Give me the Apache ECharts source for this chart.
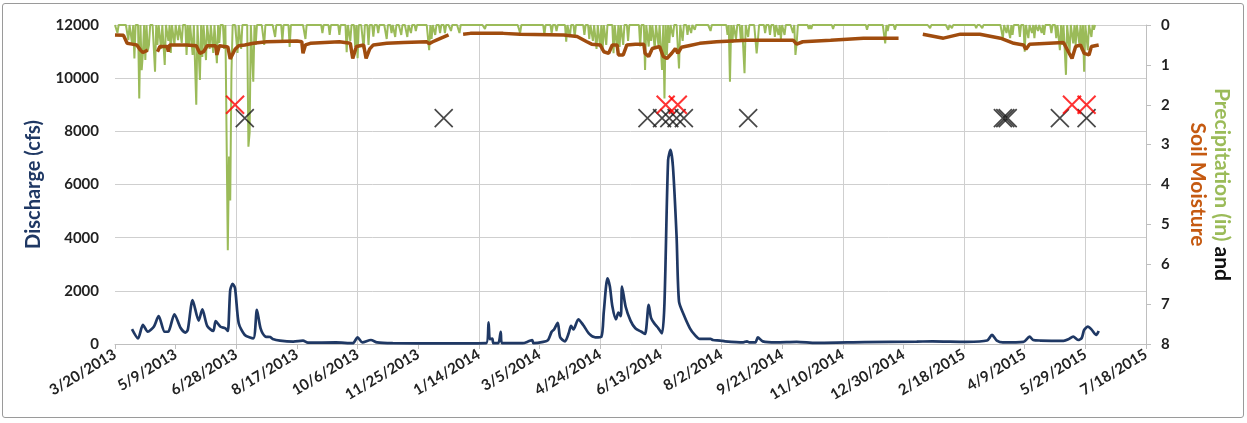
<!DOCTYPE html>
<html>
<head>
<meta charset="utf-8">
<script src="https://cdn.jsdelivr.net/npm/echarts@6/dist/echarts.min.js"></script>
<style>
  html, body { margin: 0; padding: 0; background: #fff; }
  #chart { width: 1247px; height: 423px; }
  #frame { position: absolute; left: 2px; top: 3px; width: 1240px; height: 413px;
           border: 1px solid #9a9a9a; border-radius: 3px; pointer-events: none; }
</style>
</head>
<body>
<div id="chart"></div>
<div id="frame"></div>
<script>
// ---- Daily discharge (cfs), left axis ----
const flowDates = [
  '2013-04-03','2013-04-08','2013-04-12','2013-04-16','2013-04-21','2013-04-25','2013-04-30','2013-05-03',
  '2013-05-08','2013-05-13','2013-05-17','2013-05-19','2013-05-23','2013-05-28','2013-05-31','2013-06-04',
  '2013-06-09','2013-06-11','2013-06-15','2013-06-19','2013-06-21','2013-06-23','2013-06-25','2013-06-27',
  '2013-06-30','2013-07-05','2013-07-12','2013-07-15','2013-07-18','2013-07-22','2013-07-26','2013-07-28',
  '2013-08-03','2013-08-14','2013-08-22','2013-08-26','2013-09-18','2013-10-02','2013-10-06','2013-10-10',
  '2013-10-17','2013-10-22','2013-11-04','2013-12-15','2014-01-20','2014-01-22','2014-01-23','2014-01-25',
  '2014-01-26','2014-01-30','2014-02-01','2014-02-02','2014-02-19','2014-02-24','2014-02-27','2014-02-28',
  '2014-03-08','2014-03-12','2014-03-15','2014-03-17','2014-03-20','2014-03-22','2014-03-26','2014-03-29',
  '2014-03-31','2014-04-02','2014-04-06','2014-04-10','2014-04-15','2014-04-20','2014-04-25','2014-04-27',
  '2014-04-30','2014-05-02','2014-05-04','2014-05-07','2014-05-09','2014-05-11','2014-05-12','2014-05-15',
  '2014-05-19','2014-05-23','2014-05-28','2014-05-31','2014-06-03','2014-06-05','2014-06-08','2014-06-11',
  '2014-06-14','2014-06-16','2014-06-19','2014-06-21','2014-06-23','2014-06-26','2014-06-28','2014-07-02',
  '2014-07-07','2014-07-11','2014-07-15','2014-07-24','2014-07-26','2014-08-01','2014-08-05','2014-08-20',
  '2014-08-23','2014-08-25','2014-08-30','2014-09-01','2014-09-05','2014-09-16','2014-10-03','2014-10-19',
  '2014-11-28','2015-01-10','2015-01-23','2015-02-20','2015-03-09','2015-03-13','2015-03-17','2015-03-22',
  '2015-04-08','2015-04-13','2015-04-16','2015-04-22','2015-05-11','2015-05-15','2015-05-19','2015-05-23',
  '2015-05-26','2015-05-28','2015-05-31','2015-06-03','2015-06-07','2015-06-09'
];
const flowCfs = [
  560,210,720,460,650,1050,460,470,
  1120,610,430,530,1650,880,1300,680,
  490,860,650,590,490,2030,2260,2090,
  780,340,210,1280,590,280,260,190,
  125,90,125,50,60,30,250,60,
  150,60,30,20,30,815,180,200,
  30,30,460,30,30,100,150,30,
  80,150,460,550,800,250,100,400,
  680,550,930,715,380,250,275,1220,
  2470,2160,1430,930,1180,1050,2160,1400,
  880,590,460,380,1470,970,750,590,
  400,1530,6920,7300,6670,4040,1590,1090,
  590,340,190,190,150,130,100,60,
  100,60,60,250,100,60,80,40,
  70,90,100,80,130,340,130,60,
  80,280,150,130,120,175,280,150,
  225,530,650,550,340,490
];

// ---- Daily precipitation (in), right axis (inverted); days not listed had none ----
const rainFirst = '2013-03-20';
const rainLast = '2015-06-06';
const rainDates = [
  '2013-03-22','2013-03-31','2013-04-03','2013-04-05','2013-04-09','2013-04-11','2013-04-12','2013-04-14',
  '2013-04-16','2013-04-17','2013-04-22','2013-04-24','2013-04-27','2013-04-30','2013-05-03','2013-05-05',
  '2013-05-08','2013-05-11','2013-05-14','2013-05-18','2013-05-20','2013-05-23','2013-05-26','2013-05-29',
  '2013-05-31','2013-06-03','2013-06-06','2013-06-09','2013-06-12','2013-06-14','2013-06-18','2013-06-21',
  '2013-06-22','2013-06-23','2013-06-24','2013-06-29','2013-07-02','2013-07-08','2013-07-09','2013-07-12',
  '2013-07-14','2013-07-21','2013-07-30','2013-08-05','2013-08-11','2013-08-24','2013-09-07','2013-09-13',
  '2013-09-21','2013-09-27','2013-09-30','2013-10-04','2013-10-06','2013-10-11','2013-10-15','2013-10-19',
  '2013-10-23','2013-10-30','2013-11-03','2013-11-06','2013-11-11','2013-11-16','2013-11-19','2013-11-23',
  '2013-12-04','2013-12-06','2013-12-09','2013-12-13','2013-12-17','2013-12-22','2013-12-29','2014-01-19',
  '2014-02-17','2014-03-09','2014-03-15','2014-03-19','2014-03-27','2014-03-30','2014-04-03','2014-04-11',
  '2014-04-15','2014-04-18','2014-04-21','2014-04-24','2014-04-26','2014-04-29','2014-05-05','2014-05-08',
  '2014-05-10','2014-05-13','2014-05-17','2014-05-27','2014-05-31','2014-06-03','2014-06-05','2014-06-08',
  '2014-06-11','2014-06-14','2014-06-16','2014-06-18','2014-06-20','2014-06-23','2014-06-28','2014-07-01',
  '2014-07-05','2014-07-08','2014-07-11','2014-07-24','2014-08-07','2014-08-09','2014-08-11','2014-08-14',
  '2014-08-18','2014-08-21','2014-08-24','2014-08-31','2014-09-01','2014-09-07','2014-09-11','2014-09-15',
  '2014-09-18','2014-09-20','2014-09-23','2014-09-30','2014-10-02','2014-10-03','2014-10-13','2014-10-15',
  '2014-11-02','2014-11-30','2014-12-15','2014-12-17','2014-12-23','2015-01-14','2015-01-21','2015-02-05',
  '2015-02-08','2015-02-28','2015-03-05','2015-03-22','2015-03-25','2015-03-28','2015-03-30','2015-04-05',
  '2015-04-09','2015-04-12','2015-04-15','2015-04-17','2015-04-20','2015-04-23','2015-04-25','2015-05-01',
  '2015-05-05','2015-05-08','2015-05-10','2015-05-13','2015-05-16','2015-05-19','2015-05-21','2015-05-24',
  '2015-05-26','2015-05-28','2015-05-31','2015-06-03','2015-06-05'
];
const rainInches = [
  0.20,0.38,0.45,0.84,1.84,1.13,0.71,0.88,
  0.65,0.50,1.17,0.50,0.60,1.00,0.40,0.70,
  0.50,0.38,0.45,0.75,0.55,0.75,2.00,1.38,
  0.80,0.88,0.60,0.70,0.96,0.45,0.60,5.65,
  3.30,4.40,1.20,0.70,0.60,3.05,2.70,1.42,
  0.50,0.50,0.30,0.40,0.55,0.35,0.20,0.25,
  0.25,0.68,0.40,0.55,0.83,0.60,0.50,0.29,
  0.20,0.35,0.20,0.30,0.25,0.30,0.20,0.15,
  0.63,0.35,0.25,0.20,0.20,0.15,0.20,0.10,
  0.20,0.25,0.20,0.15,0.42,0.30,0.30,0.25,
  0.35,0.40,0.60,0.55,0.65,0.50,0.71,0.63,
  0.55,0.50,0.40,0.54,1.13,0.54,0.40,0.60,
  0.50,1.13,1.84,0.75,0.45,0.30,1.09,0.40,
  0.25,0.20,0.12,0.15,0.25,1.42,0.45,0.35,
  0.40,1.21,0.30,0.71,0.40,0.20,0.25,0.30,
  0.25,0.35,0.25,0.20,0.75,0.45,0.10,0.10,
  0.10,0.12,0.46,0.15,0.12,0.05,0.08,0.12,
  0.08,0.08,0.08,0.33,0.20,0.33,0.25,0.30,
  0.67,0.33,0.20,0.33,0.15,0.20,0.25,0.20,
  0.33,0.63,0.50,1.25,0.67,0.46,0.50,0.46,
  0.63,1.17,0.63,0.30,0.12
];

// ---- Soil moisture, right axis; null marks a break in the record ----
const soilDates = [
  '2013-03-20','2013-03-27','2013-03-30','2013-04-03','2013-04-07','2013-04-10','2013-04-12','2013-04-16',
  '2013-04-20','2013-04-24','2013-04-26','2013-05-02','2013-05-03','2013-05-04','2013-05-18','2013-05-26',
  '2013-05-29','2013-06-01','2013-06-04','2013-06-11','2013-06-12','2013-06-14','2013-06-21','2013-06-23',
  '2013-06-27','2013-06-30','2013-07-05','2013-07-12','2013-07-23','2013-08-17','2013-08-21','2013-08-22',
  '2013-08-24','2013-08-28','2013-09-21','2013-09-30','2013-10-02','2013-10-05','2013-10-11','2013-10-13',
  '2013-10-16','2013-10-19','2013-10-30','2013-11-13','2013-12-02','2013-12-04','2013-12-07','2013-12-10',
  '2013-12-20','2013-12-26','2014-01-01','2014-01-07','2014-02-03','2014-02-17','2014-03-25','2014-04-05',
  '2014-04-13','2014-04-17','2014-04-24','2014-04-27','2014-05-01','2014-05-04','2014-05-08','2014-05-09',
  '2014-05-13','2014-05-16','2014-05-23','2014-05-30','2014-05-31','2014-06-03','2014-06-06','2014-06-12',
  '2014-06-15','2014-06-18','2014-06-22','2014-06-25','2014-06-27','2014-06-30','2014-07-06','2014-07-15',
  '2014-07-29','2014-08-23','2014-09-30','2014-10-03','2014-10-08','2014-10-31','2014-11-27','2014-12-26',
  '2015-01-05','2015-01-15','2015-02-01','2015-02-15','2015-03-03','2015-03-20','2015-03-31','2015-04-08',
  '2015-04-10','2015-04-13','2015-05-11','2015-05-15','2015-05-18','2015-05-21','2015-05-25','2015-05-28',
  '2015-06-01','2015-06-03','2015-06-09'
];
const soilValues = [
  0.25,0.26,0.46,0.48,0.50,0.63,0.69,0.63,
  null,0.67,0.54,0.54,0.67,0.50,0.50,0.52,
  0.71,0.67,0.52,0.52,0.75,0.52,0.55,0.85,
  0.61,0.52,0.50,0.46,0.42,0.40,0.42,0.71,
  0.50,0.46,0.42,0.46,0.84,0.54,0.50,0.84,
  0.60,0.50,0.46,0.44,0.42,0.47,0.42,0.38,
  0.25,null,0.23,0.21,0.21,0.23,0.25,0.29,
  0.42,0.48,0.50,0.67,0.71,0.50,0.50,0.75,
  0.75,0.50,0.48,0.48,0.71,0.79,0.59,0.54,
  0.79,0.84,0.71,0.59,0.71,0.56,0.52,0.46,
  0.42,0.38,0.38,0.48,0.42,0.38,0.33,0.33,
  null,0.23,0.33,0.23,0.23,0.33,0.46,0.50,
  0.61,0.48,0.44,0.67,0.84,0.54,0.50,0.71,
  0.75,0.54,0.50
];

// ---- Event markers drawn as crosses on the discharge axis ----
const blackDates = ['2013-07-05','2013-12-16','2014-06-02','2014-06-14','2014-06-20','2014-06-26','2014-07-02',
                    '2014-08-24','2015-03-22','2015-03-24','2015-03-26','2015-05-08','2015-05-30'];
const blackLevel = [8500,8500,8500,8500,8500,8500,8500,8500,8500,8500,8500,8500,8500];
const redDates = ['2013-06-27','2014-06-17','2014-06-27','2015-05-18','2015-05-30'];
const redLevel = [9000,9000,9000,9000,9000];

// ---- Axis extents ----
const axisStart = '2013-03-20';
const axisDays = 850;       // through 7/18/2015
const tickDays = 50;
const gridDays = 100;

const DAY = 86400000;
const t0 = (s => { const p = s.split('-').map(Number); return Date.UTC(p[0], p[1] - 1, p[2]); })(axisStart);
function dayOf(s) {
  const p = s.split('-').map(Number);
  return Math.round((Date.UTC(p[0], p[1] - 1, p[2]) - t0) / DAY);
}
function labelOf(d) {
  const t = new Date(t0 + d * DAY);
  return (t.getUTCMonth() + 1) + '/' + t.getUTCDate() + '/' + t.getUTCFullYear();
}

const flowData = flowDates.map((d, i) => [dayOf(d), flowCfs[i]]);
const soilData = soilDates.map((d, i) => [dayOf(d), soilValues[i] === null ? '-' : soilValues[i]]);
const rainByDay = {};
rainDates.forEach((d, i) => { rainByDay[dayOf(d)] = rainInches[i]; });
const rainData = [];
for (let d = dayOf(rainFirst); d <= dayOf(rainLast); d++) rainData.push([d, rainByDay[d] || 0]);
const blackData = blackDates.map((d, i) => [dayOf(d), blackLevel[i]]);
const redData = redDates.map((d, i) => [dayOf(d), redLevel[i]]);

const FONT = 'Lato, "Open Sans", sans-serif';
const gridColor = '#cfcfcf';
const crossPath = 'path://M0,0L10,10M10,0L0,10';
const nameSize = 20;
const rightNameSize = 21;

const chart = echarts.init(document.getElementById('chart'), null, { renderer: 'canvas' });
chart.setOption({
  animation: false,
  backgroundColor: '#fff',
  grid: { left: 115, right: 101, top: 25, bottom: 79, containLabel: false },
  xAxis: [
    {
      type: 'value', min: 0, max: axisDays, interval: tickDays, position: 'bottom',
      axisLine: { show: true, onZero: false, lineStyle: { color: '#bfbfbf', width: 1 } },
      axisTick: { show: true, length: 5, lineStyle: { color: '#bfbfbf' } },
      splitLine: { show: false },
      axisLabel: {
        formatter: v => labelOf(v), rotate: 31, margin: 9,
        fontFamily: FONT, fontSize: 15, fontWeight: 'bold', color: '#222'
      }
    },
    {
      // vertical grid every 100 days
      type: 'value', min: 0, max: axisDays, interval: gridDays, position: 'bottom',
      axisLine: { show: false, onZero: false }, axisTick: { show: false }, axisLabel: { show: false },
      splitLine: { show: true, showMinLine: false, lineStyle: { color: gridColor, width: 1 } }
    }
  ],
  yAxis: [
    {
      type: 'value', min: 0, max: 12000, interval: 2000, position: 'left',
      axisLine: { show: false, onZero: false }, axisTick: { show: false },
      splitLine: { show: true, lineStyle: { color: gridColor, width: 1 } },
      axisLabel: { formatter: v => String(v), margin: 16, fontFamily: FONT, fontSize: 15, fontWeight: 'bold', color: '#222' },
      name: 'Discharge (cfs)', nameLocation: 'middle', nameGap: 71, nameRotate: 90,
      nameTextStyle: { fontFamily: FONT, fontSize: nameSize, fontWeight: 'bold', color: '#1f3864' }
    },
    {
      type: 'value', min: 0, max: 8, interval: 1, position: 'right', inverse: true,
      axisLine: { show: true, onZero: false, lineStyle: { color: '#bfbfbf', width: 1 } },
      axisTick: { show: true, length: 5, lineStyle: { color: '#bfbfbf' } },
      splitLine: { show: false },
      axisLabel: { margin: 15, fontFamily: FONT, fontSize: 15, fontWeight: 'bold', color: '#222' },
      name: '{g|Precipitation (in)} {k|and}\n{b|Soil Moisture}',
      nameLocation: 'middle', nameGap: 40, nameRotate: -90,
      nameTextStyle: {
        fontFamily: FONT, fontSize: rightNameSize, fontWeight: 'bold', lineHeight: 24,
        rich: {
          g: { fontFamily: FONT, fontSize: rightNameSize, fontWeight: 'bold', color: '#9bbb59', lineHeight: 24 },
          k: { fontFamily: FONT, fontSize: rightNameSize, fontWeight: 'bold', color: '#111', lineHeight: 24 },
          b: { fontFamily: FONT, fontSize: rightNameSize, fontWeight: 'bold', color: '#c55a11', lineHeight: 24 }
        }
      }
    }
  ],
  series: [
    {
      name: 'Precipitation', type: 'line', xAxisIndex: 0, yAxisIndex: 1, data: rainData,
      showSymbol: false, lineStyle: { color: '#9bbb59', width: 2 }, z: 1
    },
    {
      name: 'Soil Moisture', type: 'line', xAxisIndex: 0, yAxisIndex: 1, data: soilData,
      showSymbol: false, connectNulls: false, lineStyle: { color: '#a04c0e', width: 3.5 }, z: 2
    },
    {
      name: 'Discharge', type: 'line', xAxisIndex: 0, yAxisIndex: 0, data: flowData,
      showSymbol: false, smooth: 0.25, lineStyle: { color: '#1f3864', width: 2.7 }, z: 3
    },
    {
      name: 'Events', type: 'scatter', xAxisIndex: 0, yAxisIndex: 0, data: blackData,
      symbol: crossPath, symbolSize: 18,
      itemStyle: { color: 'transparent', borderColor: '#1a1a1a', borderWidth: 1.7 }, z: 4
    },
    {
      name: 'Flagged events', type: 'scatter', xAxisIndex: 0, yAxisIndex: 0, data: redData,
      symbol: crossPath, symbolSize: 18,
      itemStyle: { color: 'transparent', borderColor: '#ff0000', borderWidth: 2 }, z: 5
    }
  ]
});
</script>
</body>
</html>
